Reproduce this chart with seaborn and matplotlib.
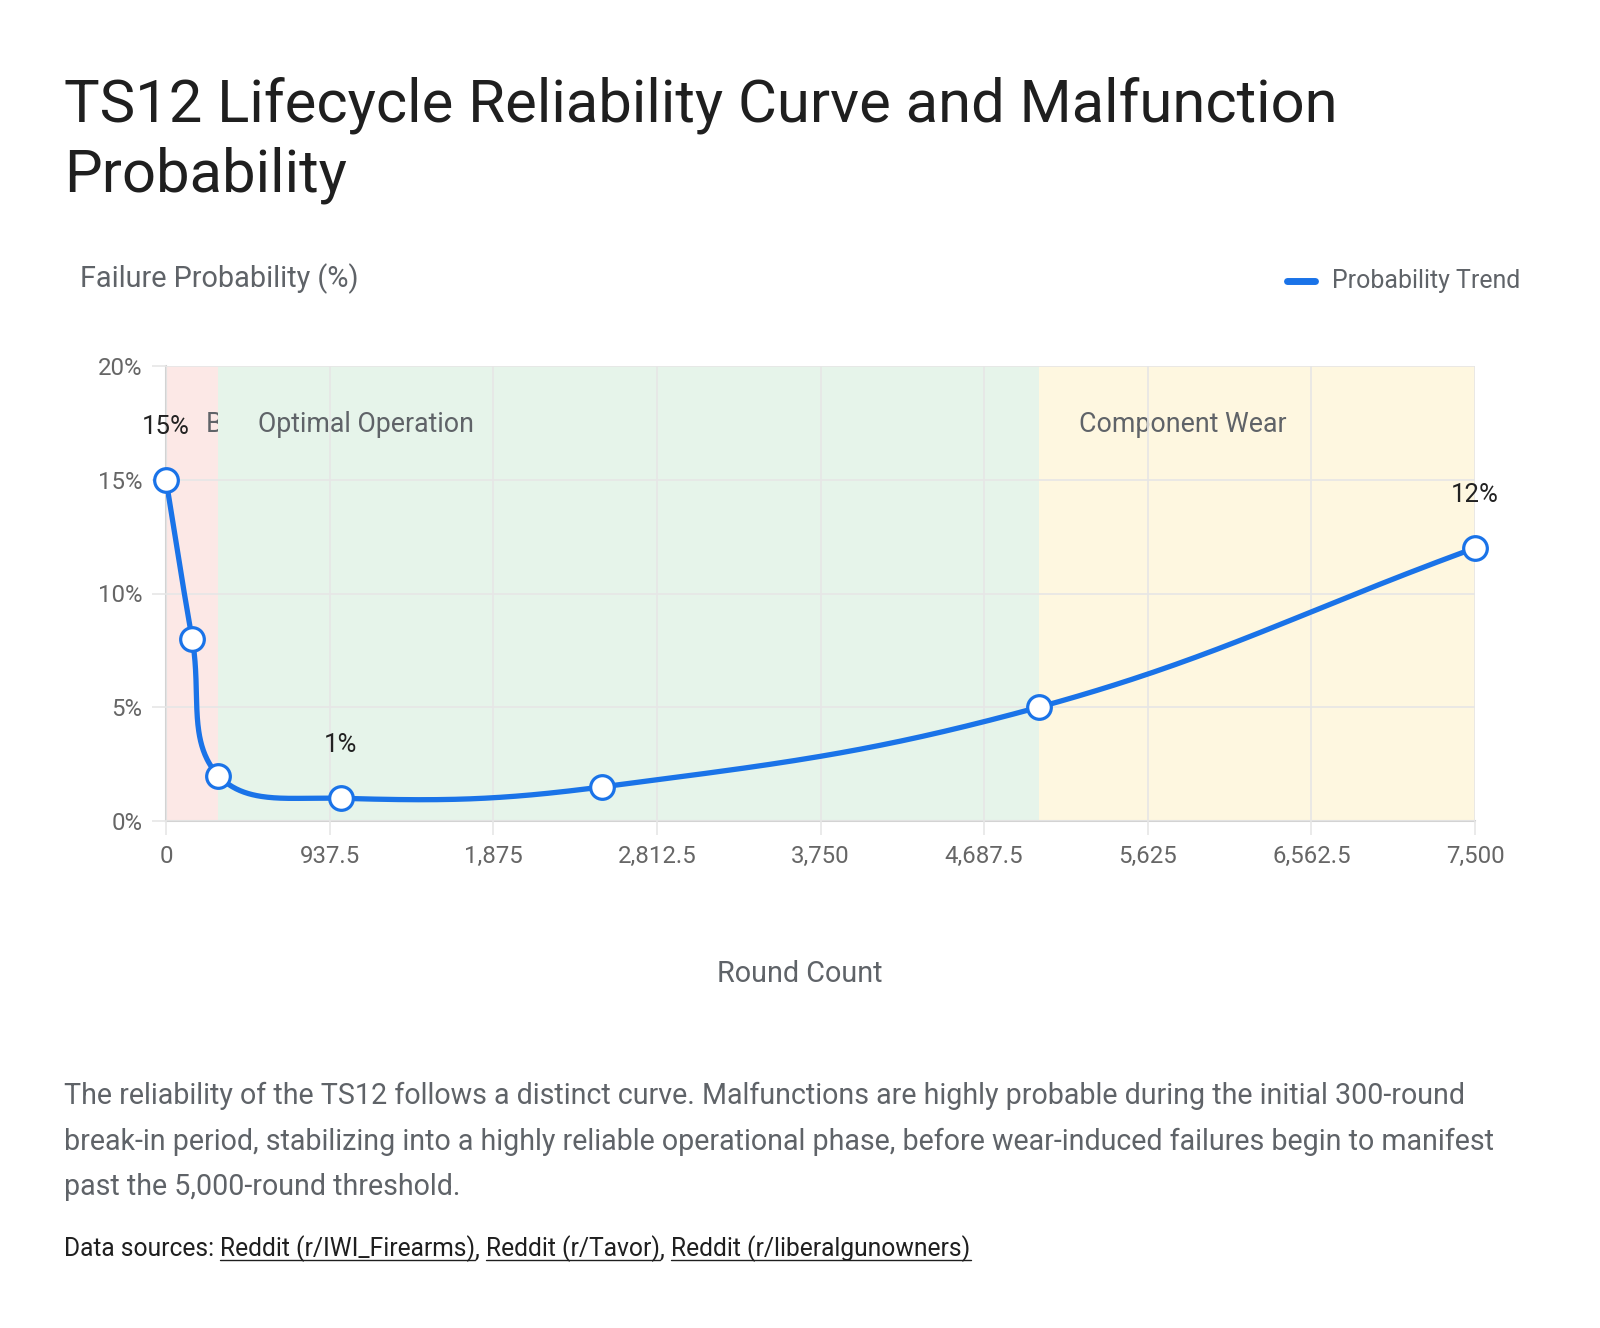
import numpy as np
import pandas as pd
import seaborn as sns
import matplotlib.pyplot as plt
from matplotlib.lines import Line2D
from matplotlib.transforms import Bbox, TransformedBbox

# Data
rounds = [0, 150, 300, 1000, 2500, 5000, 7500]
failure_pct = [15, 8, 2, 1, 1.5, 5, 12]
labelled_rounds = [0, 1000, 7500]

band_names = ["Break-in", "Optimal Operation", "Component Wear"]
band_start = [0, 300, 5000]
band_end = [300, 5000, 7500]
band_colors = ["#fce8e6", "#e6f4ea", "#fef7e0"]

x_ticks = [0, 937.5, 1875, 2812.5, 3750, 4687.5, 5625, 6562.5, 7500]
x_tick_labels = ["0", "937.5", "1,875", "2,812.5", "3,750", "4,687.5", "5,625", "6,562.5", "7,500"]
y_ticks = [0, 5, 10, 15, 20]

title_lines = ["TS12 Lifecycle Reliability Curve and Malfunction", "Probability"]
description = [
    "The reliability of the TS12 follows a distinct curve. Malfunctions are highly probable during the initial 300-round",
    "break-in period, stabilizing into a highly reliable operational phase, before wear-induced failures begin to manifest",
    "past the 5,000-round threshold.",
]
sources = ["Reddit (r/IWI_Firearms)", "Reddit (r/Tavor)", "Reddit (r/liberalgunowners)"]

BLUE = "#1a73e8"
GRAY = "#5f6368"
GRID = "#e6e6e6"

sns.set_theme(style="white")
plt.rcParams['font.family'] = ['Roboto', 'DejaVu Sans']

W, H = 1600, 1328
fig = plt.figure(figsize=(W / 100, H / 100), dpi=100)
ax_l, ax_r, ax_t, ax_b = 166, 1475, 366, 821
ax = fig.add_axes([ax_l / W, 1 - ax_b / H, (ax_r - ax_l) / W, (ax_b - ax_t) / H])
ax.set_xlim(0, 7500)
ax.set_ylim(0, 20)


def spline_curve(xs, ys, sx, sy, tension=0.4, n=80):
    # chart.js style bezier smoothing, computed in pixel space
    px = np.asarray(xs, float) * sx
    py = np.asarray(ys, float) * sy
    k = len(px)
    cp_prev, cp_next = [], []
    for i in range(k):
        a = max(i - 1, 0)
        b = min(i + 1, k - 1)
        d01 = np.hypot(px[i] - px[a], py[i] - py[a])
        d12 = np.hypot(px[b] - px[i], py[b] - py[i])
        tot = d01 + d12
        s01 = d01 / tot if tot else 0
        s12 = d12 / tot if tot else 0
        fa, fb = tension * s01, tension * s12
        dx, dy = px[b] - px[a], py[b] - py[a]
        cp_prev.append((px[i] - fa * dx, py[i] - fa * dy))
        cp_next.append((px[i] + fb * dx, py[i] + fb * dy))
    out_x, out_y = [], []
    t = np.linspace(0, 1, n)
    for i in range(k - 1):
        p0 = np.array([px[i], py[i]])
        p1 = np.array(cp_next[i])
        p2 = np.array(cp_prev[i + 1])
        p3 = np.array([px[i + 1], py[i + 1]])
        pts = ((1 - t) ** 3)[:, None] * p0 + (3 * (1 - t) ** 2 * t)[:, None] * p1 \
            + (3 * (1 - t) * t ** 2)[:, None] * p2 + (t ** 3)[:, None] * p3
        out_x.extend(pts[:, 0] / sx)
        out_y.extend(pts[:, 1] / sy)
    return np.array(out_x), np.array(out_y)


# bands
for name, s, e, c in zip(band_names, band_start, band_end, band_colors):
    ax.axvspan(s, e, color=c, lw=0, zorder=0)
    txt = ax.annotate(name, xy=(s, 20), xytext=(40, -58), textcoords="offset pixels",
                      fontsize=19.3, color=GRAY, va="center", ha="left", zorder=2)
    clip = TransformedBbox(Bbox([[s, 0], [e, 20]]), ax.transData)
    txt.set_clip_box(clip)
    txt.set_clip_on(True)

# curve
sx = (ax_r - ax_l) / 7500
sy = (ax_b - ax_t) / 20
cx, cy = spline_curve(rounds, failure_pct, sx, sy)
curve = pd.DataFrame({"Round Count": cx, "Failure": cy})
sns.lineplot(data=curve, x="Round Count", y="Failure", sort=False, estimator=None,
             color=BLUE, lw=3.8, ax=ax, zorder=3, solid_capstyle="round")

pts = pd.DataFrame({"Round Count": rounds, "Failure": failure_pct})
sns.scatterplot(data=pts, x="Round Count", y="Failure", s=290, color="white",
                edgecolor=BLUE, linewidth=2.3, ax=ax, zorder=4, clip_on=False)

for r, v in zip(rounds, failure_pct):
    if r in labelled_rounds:
        ax.annotate(f"{v:g}%", xy=(r, v), xytext=(0, 53), textcoords="offset pixels",
                    ha="center", va="center", fontsize=18.5, color="#222222")

# axes styling
ax.set_xticks(x_ticks)
ax.set_xticklabels(x_tick_labels)
ax.set_yticks(y_ticks)
ax.set_yticklabels([f"{v}%" for v in y_ticks])
ax.grid(True, color=GRID, lw=1.2, zorder=1)
ax.set_axisbelow(False)
for sp in ["top", "right"]:
    ax.spines[sp].set_visible(False)
for sp in ["left", "bottom"]:
    ax.spines[sp].set_color("#d3d3d3")
    ax.spines[sp].set_linewidth(1.5)
    ax.spines[sp].set_zorder(1.5)
ax.tick_params(axis="both", length=10, width=1.2, color=GRID, labelsize=17.3,
               labelcolor="#666666", pad=7, left=True, bottom=True)
ax.set_xlabel("")
ax.set_ylabel("")

# titles and labels
for i, line in enumerate(title_lines):
    fig.text(64 / W, 1 - (122 + i * 70) / H, line, fontsize=43, color="#1f1f1f",
             va="baseline", ha="left")
fig.text(80 / W, 1 - 279 / H, "Failure Probability (%)", fontsize=20.8, color=GRAY,
         va="center", ha="left")
fig.text(800 / W, 1 - 974 / H, "Round Count", fontsize=20.7, color=GRAY,
         va="center", ha="center")

# legend
fig.add_artist(Line2D([1287 / W, 1315 / W], [1 - 281 / H] * 2, color=BLUE, lw=5,
                      solid_capstyle="round", transform=fig.transFigure))
fig.text(1332 / W, 1 - 281 / H, "Probability Trend", fontsize=17.9, color=GRAY,
         va="center", ha="left")

# description
for i, line in enumerate(description):
    fig.text(64 / W, 1 - (1096 + i * 45.5) / H, line, fontsize=20.6, color=GRAY,
             va="center", ha="left")

# sources with underlined links
fig.canvas.draw()
renderer = fig.canvas.get_renderer()
x_px = 64
y_px = 1249
pieces = [("Data sources: ", False)]
for i, s in enumerate(sources):
    if i:
        pieces.append((", ", False))
    pieces.append((s, True))
for text, underline in pieces:
    t = fig.text(x_px / W, 1 - y_px / H, text, fontsize=17.7, color="#1f1f1f",
                 va="center", ha="left")
    bb = t.get_window_extent(renderer)
    if underline:
        yl = bb.y0 + 2
        fig.add_artist(Line2D([bb.x0 / W, bb.x1 / W], [yl / H] * 2, color="#1f1f1f",
                              lw=1.0, transform=fig.transFigure))
    x_px = bb.x1

fig.savefig("out.png", dpi=100, facecolor="white")
